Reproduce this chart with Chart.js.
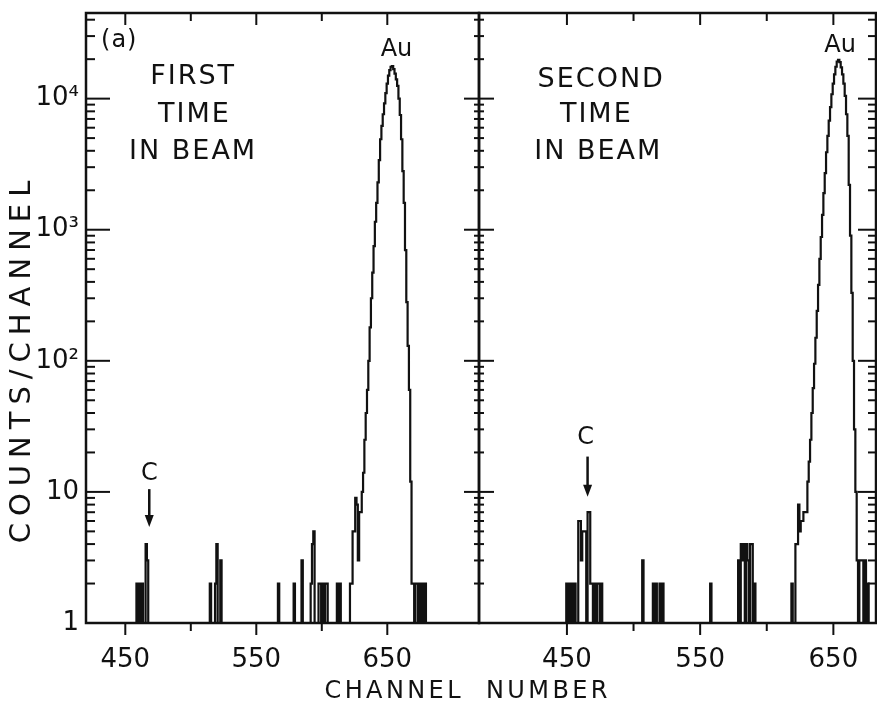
<!DOCTYPE html>
<html>
<head>
<meta charset="utf-8">
<title>Counts per channel</title>
<script src="https://cdn.jsdelivr.net/npm/chart.js@4.4.1/dist/chart.umd.min.js"></script>
<style>
  html, body { margin: 0; padding: 0; background: #fff; }
  #wrap { position: relative; width: 877px; height: 706px; }
  #wrap canvas { position: absolute; left: 0; top: 0; }
</style>
</head>
<body>
<div id="wrap">
  <canvas id="first" width="877" height="706"></canvas>
  <canvas id="second" width="877" height="706"></canvas>
</div>
<script>
const ink = "#111";
const family = '"DejaVu Sans", sans-serif';

// ejes compartidos
const yMin = 1, yMax = 45000;
const yTickValues = [1, 10, 100, 1000, 10000];
const yTickLabels = ["1", "10", "10²", "10³", "10⁴"];
const xTickValues = [450, 500, 550, 600, 650];
const xTickLabels = [450, 550, 650];
const firstRange = [420, 720];
const secondRange = [384, 682];

// primera vez en el haz: canales sueltos + pico de Au
const firstSpikeCh = [459, 461, 463, 466, 467, 515, 519, 520, 523, 567, 579, 585, 592, 593, 594,
  598, 599, 601, 603, 604, 612, 614, 670, 672, 673, 675, 677, 679];
const firstSpikeCt = [2, 2, 2, 4, 3, 2, 2, 4, 3, 2, 2, 3, 2, 4, 5,
  2, 2, 2, 2, 2, 2, 2, 2, 2, 2, 2, 2, 2];
const firstPeakStart = 622;
const firstPeakCt = [2, 2, 5, 5, 9, 8, 3, 7, 7,
  10, 14, 25, 40, 60, 100, 180, 300, 470, 750,
  1150, 1600, 2300, 3400, 4900, 6200, 7600, 9200, 11000, 13000,
  15000, 16500, 17500, 17700, 16800, 15500, 14000, 12500, 10000, 7500,
  4900, 2800, 1600, 700, 280, 130, 60, 12, 2];

// segunda vez en el haz
const secondSpikeCh = [450, 452, 454, 456, 459, 460, 461, 462, 463, 464, 466, 467, 468, 469,
  471, 473, 474, 476, 507, 515, 517, 520, 522, 558, 579, 581, 582, 583, 585, 586,
  588, 589, 591, 619, 670, 671, 672, 674, 676];
const secondSpikeCt = [2, 2, 2, 2, 6, 6, 3, 5, 5, 5, 7, 7, 2, 2,
  2, 2, 2, 2, 3, 2, 2, 2, 2, 2, 3, 4, 3, 4, 4, 3,
  4, 4, 2, 2, 3, 3, 3, 3, 2];
const secondPeakStart = 622;
const secondPeakCt = [4, 4, 8, 5, 6, 6, 7, 7, 7,
  12, 17, 25, 40, 62, 95, 150, 240, 380, 600,
  880, 1300, 1900, 2700, 3900, 5200, 6800, 8600, 10800, 13000,
  15300, 17500, 19200, 19800, 19000, 17300, 15300, 13000, 10500, 7600,
  5200, 2200, 900, 330, 100, 30, 10, 3];

// canales sin cuentas van a la base del eje log (1)
function buildSeries(range, spikeCh, spikeCt, peakStart, peakCt) {
  const counts = new Map();
  spikeCh.forEach((c, i) => counts.set(c, spikeCt[i]));
  peakCt.forEach((n, i) => counts.set(peakStart + i, n));
  const pts = [];
  for (let ch = range[0]; ch <= range[1]; ch++) {
    pts.push({ x: ch, y: Math.max(counts.get(ch) || 0, 1) });
  }
  return pts;
}

function line(ctx, x1, y1, x2, y2) {
  ctx.beginPath(); ctx.moveTo(x1, y1); ctx.lineTo(x2, y2); ctx.stroke();
}

function spaced(ctx, text, cx, cy, size, sp, rot) {
  ctx.save();
  ctx.font = `${size}px ${family}`;
  ctx.letterSpacing = sp + "px";
  ctx.textAlign = "center";
  ctx.textBaseline = "middle";
  ctx.translate(cx, cy);
  if (rot) ctx.rotate(rot);
  ctx.fillText(text, sp / 2, 0);
  ctx.restore();
}

// marco, marcas y rótulos
const marcoPlugin = {
  id: "marco",
  afterDraw(chart, args, o) {
    const { ctx, chartArea: a, scales: { x, y } } = chart;
    ctx.save();
    ctx.strokeStyle = ink;
    ctx.fillStyle = ink;
    ctx.lineWidth = 2.5;
    ctx.strokeRect(a.left, a.top, a.right - a.left, a.bottom - a.top);

    ctx.lineWidth = 2;
    for (let e = 0; e <= 4; e++) {
      for (let s = 1; s <= 9; s++) {
        const v = s * Math.pow(10, e);
        if (v === 1 || v >= yMax) continue;
        const py = y.getPixelForValue(v);
        o.yTicks.forEach(t => {
          const [l, r] = s === 1 ? t.major : t.minor;
          const px = t.side === "left" ? a.left : a.right;
          line(ctx, px - l, py, px + r, py);
        });
      }
    }
    xTickValues.forEach(v => {
      const px = x.getPixelForValue(v);
      const big = xTickLabels.includes(v);
      line(ctx, px, a.bottom, px, a.bottom + (big ? 12 : 8));
      line(ctx, px, a.top, px, a.top + (big ? 12 : 8));
    });

    o.notes.forEach(n => spaced(ctx, n.text, x.getPixelForValue(n.ch), y.getPixelForValue(n.n), n.size, n.sp, 0));

    if (o.arrow) {
      const px = x.getPixelForValue(o.arrow.ch);
      const top = y.getPixelForValue(o.arrow.from);
      const tip = y.getPixelForValue(o.arrow.to);
      ctx.lineWidth = 2.5;
      line(ctx, px, top, px, tip - 10);
      ctx.beginPath();
      ctx.moveTo(px - 4.5, tip - 12);
      ctx.lineTo(px + 4.5, tip - 12);
      ctx.lineTo(px, tip);
      ctx.closePath();
      ctx.fill();
    }

    if (o.titles) {
      spaced(ctx, "COUNTS/CHANNEL", 22, 362, 29, 7, -Math.PI / 2);
      spaced(ctx, "CHANNEL  NUMBER", 466, 692, 24, 3.4, 0);
    }
    ctx.restore();
  }
};

function crearGrafico(id, range, data, pad, showY, marco) {
  return new Chart(document.getElementById(id), {
    type: "line",
    data: {
      datasets: [{
        data: data,
        borderColor: ink,
        borderWidth: 2.2,
        stepped: "middle",
        pointRadius: 0,
        fill: false
      }]
    },
    options: {
      responsive: false,
      animation: false,
      devicePixelRatio: 1,
      layout: { padding: pad, autoPadding: false },
      plugins: { legend: { display: false }, tooltip: { enabled: false }, marco: marco },
      scales: {
        x: {
          type: "linear", min: range[0], max: range[1],
          grid: { display: false, drawTicks: false },
          border: { display: false },
          afterBuildTicks: s => { s.ticks = xTickValues.map(v => ({ value: v })); },
          afterFit: s => { s.height = 83; s.paddingLeft = 0; s.paddingRight = 0; },
          ticks: {
            autoSkip: false, maxRotation: 0, padding: 22, color: ink,
            font: { family: family, size: 26 },
            callback: v => xTickLabels.includes(v) ? String(v) : null
          }
        },
        y: {
          type: "logarithmic", min: yMin, max: yMax,
          grid: { display: false, drawTicks: false },
          border: { display: false },
          afterBuildTicks: s => { s.ticks = yTickValues.map(v => ({ value: v })); },
          afterFit: s => { s.width = showY ? 86 : 0; s.paddingTop = 0; s.paddingBottom = 0; },
          ticks: {
            display: showY,
            autoSkip: false, padding: 7, color: ink,
            font: { family: family, size: 26 },
            callback: v => {
              const i = yTickValues.findIndex(t => Math.abs(t - v) / t < 1e-6);
              return i < 0 ? null : yTickLabels[i];
            }
          }
        }
      }
    },
    plugins: [marcoPlugin]
  });
}

crearGrafico("first", firstRange,
  buildSeries(firstRange, firstSpikeCh, firstSpikeCt, firstPeakStart, firstPeakCt),
  { left: 0, right: 398, top: 13, bottom: 0 }, true,
  {
    yTicks: [
      { side: "left", major: [0, 24], minor: [0, 9] },
      { side: "right", major: [15, 15], minor: [5, 5] }
    ],
    notes: [
      { text: "(a)", ch: 445, n: 27700, size: 24, sp: 1 },
      { text: "FIRST", ch: 501, n: 14500, size: 27, sp: 2 },
      { text: "TIME", ch: 502, n: 7550, size: 27, sp: 2 },
      { text: "IN BEAM", ch: 501, n: 3940, size: 27, sp: 2 },
      { text: "Au", ch: 657, n: 23700, size: 24, sp: 0 },
      { text: "C", ch: 468.3, n: 13.7, size: 24, sp: 0 }
    ],
    arrow: { ch: 468.3, from: 10.5, to: 5.4 },
    titles: true
  });

crearGrafico("second", secondRange,
  buildSeries(secondRange, secondSpikeCh, secondSpikeCt, secondPeakStart, secondPeakCt),
  { left: 479, right: 1, top: 13, bottom: 0 }, false,
  {
    yTicks: [
      { side: "right", major: [18, 0], minor: [8, 0] }
    ],
    notes: [
      { text: "SECOND", ch: 475, n: 13900, size: 27, sp: 2 },
      { text: "TIME", ch: 471.3, n: 7550, size: 27, sp: 2 },
      { text: "IN BEAM", ch: 472.8, n: 3940, size: 27, sp: 2 },
      { text: "Au", ch: 655, n: 25400, size: 24, sp: 0 },
      { text: "C", ch: 464.1, n: 25.8, size: 24, sp: 0 }
    ],
    arrow: { ch: 465.5, from: 18.6, to: 9.2 },
    titles: false
  });
</script>
</body>
</html>
